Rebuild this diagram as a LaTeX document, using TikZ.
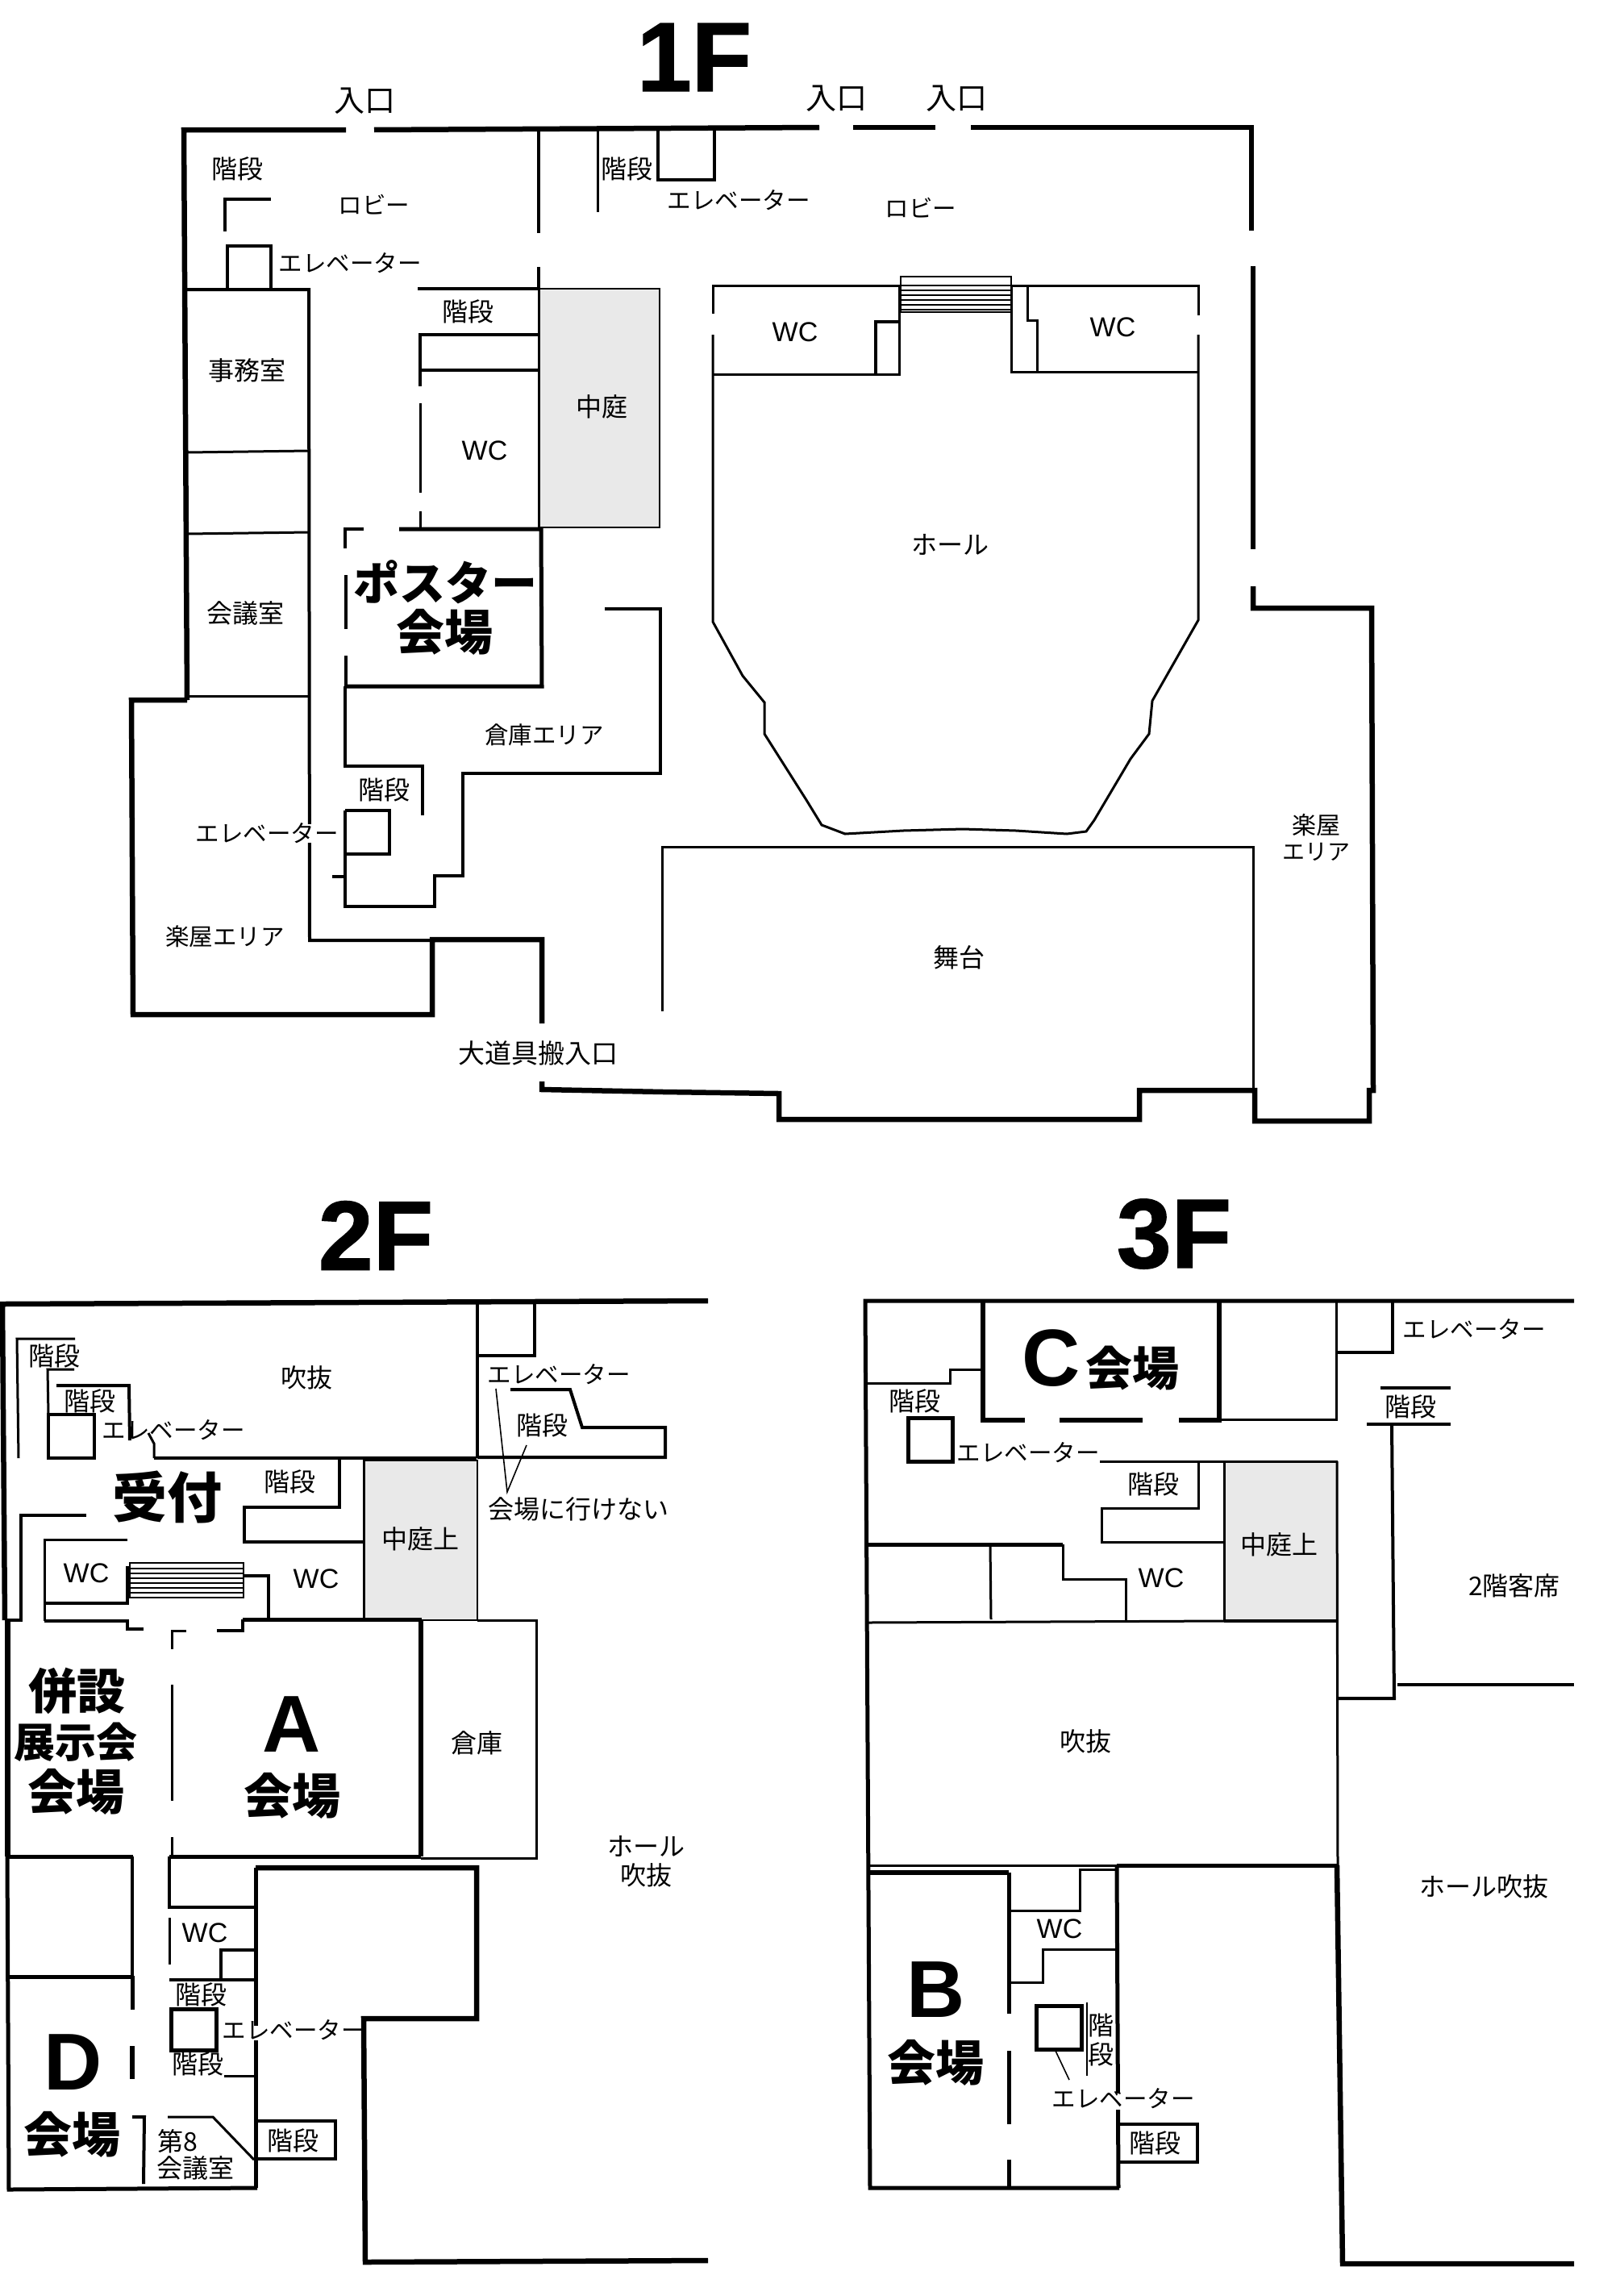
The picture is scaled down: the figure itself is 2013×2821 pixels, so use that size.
\documentclass[tikz,border=0pt]{standalone}
\usepackage{fontspec}
\setmainfont{Noto Sans CJK JP}
\newfontfamily\arialf{Liberation Sans}
\newfontfamily\heavyf[BoldFeatures={FakeBold=1.2}]{Liberation Sans}
\tikzset{
  wa/.style={line width=3pt,line join=miter},
  wb/.style={line width=4pt,line join=miter},
  wc/.style={line width=5pt,line join=miter},
  wd/.style={line width=6.5pt,line join=miter},
  hair/.style={line width=1.6pt},
  court/.style={fill=black!8.5,draw=black,line width=2pt},
  lab/.style={inner sep=0pt,align=center,font=\fontsize{32}{36}\selectfont},
  kata/.style={inner sep=0pt,align=center,font=\fontsize{29.5}{34}\selectfont},
  door/.style={inner sep=0pt,align=center,font=\fontsize{38}{42}\selectfont},
  wcl/.style={inner sep=0pt,font=\arialf\fontsize{34}{38}\selectfont},
  venue/.style={inner sep=0pt,align=center,font=\bfseries\fontsize{60}{64}\selectfont},
  letter/.style={inner sep=0pt,font=\arialf\bfseries\fontsize{100}{104}\selectfont},
  title/.style={inner sep=0pt,font=\heavyf\bfseries\fontsize{122}{126}\selectfont},
  halo/.style={fill=white,draw=none},
}
\begin{document}
\begin{tikzpicture}[x=1pt,y=-1pt]
\useasboundingbox[fill=white] (0,0) rectangle (2013,2821);
%% ===== 1F =====
\fill[court,draw=none] (669,358) rectangle (818,654);
\draw[court,fill=none] (669,358) rectangle (818,654);
% outer walls
\draw[wd] (232,868) -- (228,161) -- (429,161);
\draw[wd] (464,161) -- (1016,158);
\draw[wd] (1058,158) -- (1160,158);
\draw[wd] (1204,158) -- (1552,158) -- (1552,286);
\draw[wd] (1554,330) -- (1554,681);
\draw[wd] (1554,727) -- (1554,754) -- (1701,754) -- (1703,1352) -- (1698,1352) -- (1698,1390) -- (1556,1390) -- (1556,1352) -- (1413,1352) -- (1413,1388) -- (966,1388) -- (966,1356) -- (823,1354) -- (672,1351) -- (672,1341);
\draw[wd] (232,868) -- (163,868) -- (165,1258) -- (536,1258) -- (536,1165) -- (672,1165) -- (672,1269);
% left rooms
\draw[wb] (228,359) -- (383,359) -- (384,1166) -- (536,1166);
\draw[wa] (232,561) -- (383,559);
\draw[wa] (232,662) -- (383,660);
\draw[wa] (232,863) -- (384,863);
% top verticals
\draw[wb] (668,161) -- (668,289);
\draw[wb] (668,331) -- (668,358);
\draw[wa] (741,161) -- (741,263);
\draw[wb] (816,161) -- (816,223) -- (886,223) -- (886,158);
\draw[wb] (336,247) -- (279,247) -- (279,287);
\draw[wb] (282,358) -- (282,305) -- (336,305) -- (336,358);
% stair / WC block beside courtyard
\draw[wb] (518,358) -- (668,358);
\draw[wb] (668,415) -- (521,415) -- (521,479);
\draw[wa] (521,500) -- (521,611);
\draw[wa] (521,634) -- (521,654);
\draw[wb] (521,459) -- (668,459);
\draw[wa] (668,358) -- (668,654);
% poster room
\draw[wc] (495,656) -- (671,656) -- (672,851) -- (429,851);
\draw[wb] (429,851) -- (429,813);
\draw[wb] (429,780) -- (429,713);
\draw[wb] (428,680) -- (428,656) -- (451,656);
% storage
\draw[wb] (750,755) -- (819,755) -- (819,959) -- (574,959) -- (574,1086) -- (539,1086) -- (539,1124) -- (428,1124) -- (428,1005);
\draw[wb] (428,851) -- (428,950) -- (524,950) -- (524,1011);
\draw[wb] (428,1005) -- (483,1005) -- (483,1059) -- (428,1059);
\draw[wb] (412,1087) -- (428,1087);
% hall
\draw[wa] (884,415) -- (884,771) -- (921,838) -- (948,871) -- (948,910) -- (1000,992) -- (1019,1023) -- (1048,1034) -- (1120,1030) -- (1194,1028) -- (1260,1030) -- (1323,1034) -- (1347,1031) -- (1357,1017) -- (1402,941) -- (1425,910) -- (1429,869) -- (1486,769) -- (1486,415);
\draw[wa] (884,389) -- (884,354) -- (1115,354) -- (1115,464) -- (884,464);
\draw[wb] (1086,464) -- (1086,399) -- (1115,399);
\draw[wa] (1486,391) -- (1486,354) -- (1254,354) -- (1254,461) -- (1486,461);
\draw[wa] (1274,354) -- (1274,397) -- (1286,397) -- (1286,461);
\draw[line width=2pt] (1117,343) rectangle (1254,387);
\foreach \yy in {354,360,366,372,378,384} \draw[line width=2pt] (1117,\yy) -- (1254,\yy);
% stage
\draw[wa] (821,1254) -- (821,1050) -- (1554,1050) -- (1554,1352);
\fill[halo] (380,1022) rectangle (388,1045);
% 1F texts
\node[title] (t1f) at (861,71) {1F};
\node[door] (in1) at (452,125) {入口};
\node[door] (in2) at (1037,122) {入口};
\node[door] (in3) at (1186,122) {入口};
\node[lab] (s1) at (294,209) {階段};
\node[kata] (lob1) at (464,254) {ロビー};
\node[kata] (el1) at (434,326) {エレベーター};
\node[lab] (s2) at (777,209) {階段};
\node[kata] (el2) at (916,248) {エレベーター};
\node[kata] (lob2) at (1142,258) {ロビー};
\node[lab] (s3) at (580,386) {階段};
\node[lab] (off) at (306,459) {事務室};
\node[lab] (cy1) at (746,504) {中庭};
\node[wcl] (wc1) at (601,559) {WC};
\node[wcl] (wc2) at (986,412) {WC};
\node[wcl] (wc3) at (1380,406) {WC};
\node[lab] (hall) at (1178,675) {ホール};
\node[lab] (mtg) at (304,760) {会議室};
\node[venue,font=\bfseries\fontsize{57}{60}\selectfont] (post) at (552,722) {ポスター};
\node[venue] (postv) at (551,784) {会場};
\node[kata] (stor) at (675,911) {倉庫エリア};
\node[lab] (s4) at (476,979) {階段};
\node[kata] (el3) at (331,1033) {エレベーター};
\node[kata] (dr1) at (279,1161) {楽屋エリア};
\node[lab,font=\fontsize{33}{36}\selectfont] (load) at (667,1306) {大道具搬入口};
\node[lab] (stg) at (1189,1187) {舞台};
\node[kata,font=\fontsize{30}{33}\selectfont] (dr2a) at (1632,1023) {楽屋};
\node[kata,font=\fontsize{28}{33}\selectfont] (dr2b) at (1632,1056) {エリア};
%% ===== 2F =====
\fill[black!8.5] (451,1811) rectangle (592,2009);
\draw[line width=2pt] (451,1811) rectangle (592,2009);
\draw[wd] (878,1613) -- (3,1617) -- (6,2009);
\draw[wb] (6,2009) -- (26,2009) -- (26,1879) -- (107,1879);
\draw[wd,line width=7pt] (9,2009) -- (9,2302);
\draw[wc] (9,2302) -- (11,2715) -- (319,2713);
\draw[wc] (317,2713) -- (317,2316);
\draw[wd] (317,2316) -- (591,2316) -- (591,2503) -- (451,2503) -- (453,2805) -- (878,2803);
% room A
\draw[wc] (301,2008) -- (523,2008);
\draw[wd] (522,2008) -- (522,2302);
\draw[wc] (9,2302) -- (165,2302);
\draw[wc] (210,2302) -- (522,2302);
\draw[wa] (231,2022) -- (213,2022) -- (213,2045);
\draw[wa] (213,2089) -- (213,2233);
\draw[wa] (213,2278) -- (213,2302);
\draw[wb] (55,2010) -- (158,2010) -- (158,2020) -- (178,2020);
\draw[wb] (269,2022) -- (301,2022) -- (301,2008);
% WC left and stairs
\draw[wa] (158,1909) -- (55,1909) -- (55,2010);
\draw[wb] (55,1988) -- (158,1988) -- (158,1942);
\draw[line width=2pt] (161,1938) rectangle (302,1981);
\foreach \yy in {1945,1951,1957,1963,1969,1975} \draw[line width=2pt] (161,\yy) -- (302,\yy);
\draw[wb] (302,1954) -- (333,1954) -- (333,2008);
% middle
\draw[wa] (184,1777) -- (191,1790) -- (191,1808);
\draw[wb] (191,1808) -- (591,1808);
\draw[wb] (421,1808) -- (421,1869) -- (303,1869) -- (303,1912) -- (451,1912);
\draw[wa] (451,1811) -- (451,2008);
\draw[wb] (592,1615) -- (592,1808);
\draw[wb] (592,1681) -- (663,1681) -- (663,1615);
\draw[wb] (633,1723) -- (707,1723) -- (722,1770) -- (825,1770) -- (825,1807) -- (592,1807);
\draw[hair] (615,1722) -- (629,1850) -- (653,1792);
\draw[wa] (592,2009) -- (665,2009) -- (665,2304) -- (522,2304);
% upper-left stairs
\draw[wa] (93,1660) -- (21,1660) -- (23,1808);
\draw[wa] (92,1698) -- (59,1698) -- (60,1754);
\draw[wb] (70,1718) -- (160,1718) -- (161,1786);
\draw[wb] (60,1754) rectangle (117,1808);
% lower
\draw[wb] (164,2302) -- (164,2450);
\draw[wc] (10,2451) -- (166,2451);
\draw[wc] (164,2450) -- (164,2492);
\draw[wd] (164,2537) -- (164,2578);
\draw[wb] (164,2625) -- (179,2625) -- (178,2708);
\draw[wa] (208,2625) -- (264,2625) -- (315,2678);
\draw[wb] (317,2630) -- (416,2630) -- (416,2677) -- (317,2677);
\draw[wb] (210,2302) -- (210,2365) -- (317,2365);
\draw[wa] (210,2378) -- (210,2436);
\draw[wb] (317,2418) -- (274,2418) -- (274,2455);
\draw[wb] (210,2455) -- (317,2455);
\draw[wc] (212,2491) rectangle (268,2542);
\draw[wa] (278,2574) -- (317,2574);
\fill[halo] (312,2512) rectangle (322,2530);
% 2F texts
\node[title] (t2f) at (466,1532) {2F};
\node[lab] (s5) at (67,1681) {階段};
\node[lab] (s6) at (111,1737) {階段};
\node[kata] (el4) at (215,1773) {エレベーター};
\node[lab] (void1) at (380,1708) {吹抜};
\node[kata] (el5) at (693,1704) {エレベーター};
\node[lab] (s7) at (672,1767) {階段};
\node[lab] (s8) at (359,1837) {階段};
\node[venue,font=\bfseries\fontsize{68}{70}\selectfont] (recv) at (207,1856) {受付};
\node[lab] (cy2) at (521,1908) {中庭上};
\node[lab] (noacc) at (717,1871) {会場に行けない};
\node[wcl] (wc4) at (107,1951) {WC};
\node[wcl] (wc5) at (392,1958) {WC};
\node[venue] (heiv1) at (95,2097) {併設};
\node[venue,font=\bfseries\fontsize{51}{54}\selectfont] (heiv2) at (94,2160) {展示会};
\node[venue] (heiv3) at (94,2222) {会場};
\node[letter] (va) at (362,2138) {A};
\node[venue] (vav) at (362,2227) {会場};
\node[lab] (stor2) at (591,2161) {倉庫};
\node[lab] (hv) at (801,2308) {ホール\\吹抜};
\node[wcl] (wc6) at (254,2397) {WC};
\node[lab] (s9) at (249,2473) {階段};
\node[kata] (el6) at (364,2517) {エレベーター};
\node[lab] (s10) at (245,2559) {階段};
\node[letter] (vd) at (91,2557) {D};
\node[venue] (vdv) at (89,2647) {会場};
\node[lab] (rm8a) at (220,2655) {第8};
\node[lab] (rm8b) at (242,2688) {会議室};
\node[lab] (s11) at (363,2654) {階段};
%% ===== 3F =====
\fill[black!8.5] (1518,1812) rectangle (1658,2010);
\draw[line width=2pt] (1518,1812) rectangle (1658,2010);
\draw[wc] (1952,1613) -- (1073,1613) -- (1079,2713) -- (1388,2713);
\draw[wd] (1219,1613) -- (1219,1761) -- (1271,1761);
\draw[wd] (1314,1761) -- (1417,1761);
\draw[wd] (1462,1761) -- (1512,1761) -- (1512,1613);
\draw[wa] (1512,1760) -- (1657,1760) -- (1657,1613);
\draw[wb] (1657,1677) -- (1727,1677) -- (1727,1613);
\draw[wb] (1712,1721) -- (1799,1721);
\draw[wb] (1695,1766) -- (1799,1766);
\draw[wb] (1726,1766) -- (1729,2106) -- (1659,2106);
\draw[wb] (1733,2089) -- (1952,2089);
\draw[wa] (1073,1715) -- (1178,1715) -- (1178,1698) -- (1219,1698);
\draw[wc] (1126,1758) rectangle (1181,1812);
\draw[wa] (1364,1812) -- (1658,1812);
\draw[wa] (1486,1812) -- (1486,1870) -- (1366,1870) -- (1366,1912) -- (1518,1912);
\draw[wa] (1518,1812) -- (1518,2010);
\draw[wc] (1076,1915) -- (1318,1915);
\draw[wa] (1318,1915) -- (1318,1958) -- (1396,1958) -- (1396,2010);
\draw[wa] (1228,1915) -- (1229,2008);
\draw[wa] (1076,2012) -- (1518,2010);
\draw[wb] (1518,2010) -- (1658,2010);
\draw[wa] (1658,1812) -- (1659,2313);
% lower 3F
\draw[wa] (1077,2313) -- (1385,2313);
\draw[wc] (1385,2313) -- (1658,2313);
\draw[wd] (1658,2313) -- (1665,2807) -- (1952,2807);
\draw[wd] (1077,2322) -- (1251,2322);
\draw[wc] (1251,2322) -- (1251,2497);
\draw[wc] (1251,2543) -- (1251,2634);
\draw[wc] (1251,2678) -- (1251,2713);
\draw[wc] (1385,2313) -- (1387,2713);
\draw[wa] (1385,2318) -- (1339,2318) -- (1339,2369) -- (1251,2369);
\draw[wa] (1385,2417) -- (1293,2417) -- (1293,2458) -- (1251,2458);
\draw[wc] (1285,2487) rectangle (1341,2541);
\draw[hair] (1309,2543) -- (1326,2579);
\draw[line width=2pt] (1348,2483) -- (1348,2574);
\draw[wb] (1388,2634) -- (1485,2634) -- (1485,2681) -- (1388,2681);
\fill[halo] (1382,2596) rectangle (1392,2616);
% 3F texts
\node[title] (t3f) at (1456,1530) {3F};
\node[letter] (vc) at (1304,1684) {C};
\node[venue,font=\bfseries\fontsize{58}{62}\selectfont] (vcv) at (1404,1697) {会場};
\node[kata] (el7) at (1828,1648) {エレベーター};
\node[lab] (s12) at (1749,1744) {階段};
\node[lab] (s13) at (1134,1737) {階段};
\node[kata] (el8) at (1275,1801) {エレベーター};
\node[lab] (s14) at (1430,1840) {階段};
\node[lab] (cy3) at (1586,1915) {中庭上};
\node[wcl] (wc7) at (1440,1957) {WC};
\node[lab] (seat) at (1878,1966) {2階客席};
\node[lab] (void2) at (1346,2159) {吹抜};
\node[lab] (hv2) at (1840,2339) {ホール吹抜};
\node[wcl] (wc8) at (1314,2392) {WC};
\node[letter] (vb) at (1161,2467) {B};
\node[venue] (vbv) at (1160,2558) {会場};
\node[lab] (s15a) at (1365,2511) {階};
\node[lab] (s15b) at (1365,2547) {段};
\node[kata] (el9) at (1393,2602) {エレベーター};
\node[lab] (s16) at (1432,2657) {階段};
\end{tikzpicture}
\end{document}
